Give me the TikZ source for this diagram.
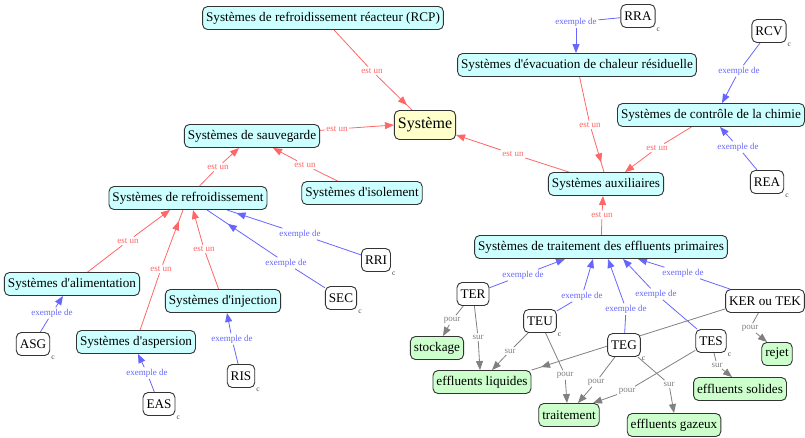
\documentclass[tikz,border=0pt]{standalone}
\usepackage{fontspec}
\setmainfont{Liberation Serif}
\usetikzlibrary{arrows.meta,decorations.markings}
\definecolor{cyanbg}{RGB}{204,255,255}
\definecolor{yellowbg}{RGB}{255,255,204}
\definecolor{greenbg}{RGB}{204,255,204}
\definecolor{cred}{RGB}{255,102,102}
\definecolor{cblue}{RGB}{102,102,255}
\definecolor{cgrey}{RGB}{128,128,128}
\pgfdeclarelayer{bg}
\pgfsetlayers{bg,main}
\newcommand{\apos}{\textquotesingle}
\tikzset{
  concept/.style={draw=black!80, rounded corners=5pt, line width=0.9pt, inner xsep=3.5pt, inner ysep=0pt, minimum height=23pt, font=\fontsize{13.2}{15}\selectfont},
  sysbox/.style={concept, fill=cyanbg},
  inst/.style={concept, fill=white},
  leaf/.style={concept, fill=greenbg},
  lbl/.style={font=\fontsize{9}{10}\selectfont, inner sep=1.5pt},
  rl/.style={lbl, text=cred},
  bl/.style={lbl, text=cblue},
  gl/.style={lbl, text=cgrey},
  redln/.style={cred, line width=0.8pt},
  blueln/.style={cblue, line width=0.8pt},
  greyln/.style={cgrey, line width=0.8pt},
  arr/.style={-{Triangle[length=9pt,width=7pt]}},
  tipat/.style={postaction={decorate}, decoration={markings, mark=at position #1 with {\arrow{Triangle[length=9pt,width=7pt]}}}},
  cmark/.style={font=\fontsize{7.5}{8}\selectfont, text=black!75, inner sep=0pt, anchor=north west, xshift=1pt},
}
\begin{document}
\begin{tikzpicture}[x=1pt,y=-1pt]
\useasboundingbox (0,0) rectangle (805,437);
% ---- concepts
\node[sysbox] (rcp) at (323,18) {Systèmes de refroidissement réacteur (RCP)};
\node[concept, fill=yellowbg, minimum height=29pt, font=\fontsize{16}{18}\selectfont] (sys) at (425,125) {Système};
\node[sysbox] (sauv) at (252,136) {Systèmes de sauvegarde};
\node[sysbox] (isol) at (362,193) {Systèmes d\apos isolement};
\node[sysbox] (refr) at (188,198) {Systèmes de refroidissement};
\node[sysbox] (alim) at (72,284) {Systèmes d\apos alimentation};
\node[sysbox] (asp) at (136,342) {Systèmes d\apos aspersion};
\node[sysbox] (inj) at (223,301) {Systèmes d\apos injection};
\node[inst] (asg) at (33,344) {ASG};
\node[inst] (eas) at (159,404) {EAS};
\node[inst] (ris) at (241,376) {RIS};
\node[inst] (sec) at (341,298) {SEC};
\node[inst] (rri) at (376,260) {RRI};
\node[inst] (rra) at (638,16) {RRA};
\node[sysbox] (evac) at (577,65) {Systèmes d\apos évacuation de chaleur résiduelle};
\node[inst] (rcv) at (769,31) {RCV};
\node[sysbox] (ctrl) at (711,115) {Systèmes de contrôle de la chimie};
\node[inst] (rea) at (767,182) {REA};
\node[sysbox] (aux) at (606,184) {Systèmes auxiliaires};
\node[sysbox] (step) at (601,247) {Systèmes de traitement des effluents primaires};
\node[inst] (ter) at (473,294) {TER};
\node[inst] (teu) at (540,321) {TEU};
\node[inst] (teg) at (624,345) {TEG};
\node[inst] (tes) at (711,341) {TES};
\node[inst] (ker) at (765,301) {KER ou TEK};
\node[leaf] (stock) at (437,348) {stockage};
\node[leaf] (liq) at (482,382) {effluents liquides};
\node[leaf] (trait) at (569,415) {traitement};
\node[leaf] (gaz) at (674,425) {effluents gazeux};
\node[leaf] (sol) at (740,389) {effluents solides};
\node[leaf] (rejet) at (777,354) {rejet};
% ---- small c marks
\foreach \n in {asg,eas,ris,sec,rri,rra,rcv,rea,teu,teg,tes}
  \node[cmark] (c\n) at (\n.south east) {c};
% ---- linking labels
\node[rl] (l1) at (372,71) {est un};
\node[rl] (l2) at (337,129) {est un};
\node[rl] (l3) at (218,167) {est un};
\node[rl] (l4) at (305,165) {est un};
\node[rl] (l5) at (128,241) {est un};
\node[rl] (l6) at (161,269) {est un};
\node[rl] (l7) at (204,249) {est un};
\node[bl] (l8) at (300,234) {exemple de};
\node[bl] (l9) at (286,263) {exemple de};
\node[bl] (l10) at (52,313) {exemple de};
\node[bl] (l11) at (147,373) {exemple de};
\node[bl] (l12) at (232,339) {exemple de};
\node[bl] (l13) at (576,22) {exemple de};
\node[rl] (l14) at (590,125) {est un};
\node[rl] (l15) at (513,154) {est un};
\node[bl] (l16) at (739,71) {exemple de};
\node[rl] (l17) at (657,148) {est un};
\node[bl] (l18) at (738,147) {exemple de};
\node[rl] (l19) at (602,215) {est un};
\node[bl] (l20) at (523,275) {exemple de};
\node[bl] (l21) at (582,296) {exemple de};
\node[bl] (l22) at (626,309) {exemple de};
\node[bl] (l23) at (656,294) {exemple de};
\node[bl] (l24) at (683,273) {exemple de};
\node[gl] (l25) at (452,320) {pour};
\node[gl] (l26) at (478,337) {sur};
\node[gl] (l27) at (510,351) {sur};
\node[gl] (l28) at (565,375) {pour};
\node[gl] (l29) at (596,382) {pour};
\node[gl] (l30) at (627,391) {pour};
\node[gl] (l31) at (669,384) {sur};
\node[gl] (l32) at (717,365) {sur};
\node[gl] (l33) at (750,328) {pour};
% ---- connectors
\begin{pgfonlayer}{bg}
\draw[redln] (rcp) -- (l1); \draw[redln, tipat=-7pt] (l1) -- ([xshift=-13pt]sys.north);
\draw[redln] (sauv) -- (l2); \draw[redln, arr] (l2) -- (sys.west);
\draw[redln] (refr) -- (l3); \draw[redln, arr] (l3) -- ([xshift=-13pt]sauv.south);
\draw[redln] (isol) -- (l4); \draw[redln, arr] (l4) -- ([xshift=21pt]sauv.south);
\draw[redln] (alim) -- (l5); \draw[redln, arr] (l5) -- ([xshift=-18pt]refr.south);
\draw[redln] (asp) -- (l6); \draw[redln, tipat=-12pt] (l6) -- ([xshift=-5pt]refr.south);
\draw[redln] (inj) -- (l7); \draw[redln, arr] (l7) -- ([xshift=5pt]refr.south);
\draw[blueln] (rri) -- (l8); \draw[blueln, tipat=-10pt] (l8) -- ([xshift=39pt]refr.south);
\draw[blueln] (sec) -- (l9); \draw[blueln, tipat=-25pt] (l9) -- ([xshift=19pt]refr.south);
\draw[blueln] (asg) -- (l10); \draw[blueln, arr] (l10) -- ([xshift=-9pt]alim.south);
\draw[blueln] (eas) -- (l11); \draw[blueln, arr] (l11) -- ([xshift=2pt]asp.south);
\draw[blueln] (ris) -- (l12); \draw[blueln, arr] (l12) -- ([xshift=4pt]inj.south);
\draw[blueln] (rra) -- (l13); \draw[blueln, arr] (l13) -- ([xshift=-1pt]evac.north);
\draw[redln] (evac) -- (l14); \draw[redln, tipat=-10pt] (l14) -- ([xshift=-2pt]aux.north);
\draw[redln] (aux) -- (l15); \draw[redln, arr] (l15) -- ([yshift=-10pt]sys.east);
\draw[blueln] (rcv) -- (l16); \draw[blueln, arr] (l16) -- ([xshift=11pt]ctrl.north);
\draw[redln] (ctrl) -- (l17); \draw[redln, arr] (l17) -- ([xshift=19pt]aux.north);
\draw[blueln] (rea) -- (l18); \draw[blueln, arr] (l18) -- ([xshift=9pt]ctrl.south);
\draw[redln] (step) -- (l19); \draw[redln, arr] (l19) -- ([xshift=-3pt]aux.south);
\draw[blueln] (ter) -- (l20); \draw[blueln, arr] (l20) -- ([xshift=-36pt]step.south);
\draw[blueln] (teu) -- (l21); \draw[blueln, arr] (l21) -- ([xshift=-8pt]step.south);
\draw[blueln] (teg) -- (l22); \draw[blueln, arr] (l22) -- ([xshift=7pt]step.south);
\draw[blueln] (tes) -- (l23); \draw[blueln, arr] (l23) -- ([xshift=22pt]step.south);
\draw[blueln] (ker) -- (l24); \draw[blueln, arr] (l24) -- ([xshift=37pt]step.south);
\draw[greyln] (ter) -- (l25); \draw[greyln, arr] (l25) -- ([xshift=6pt]stock.north);
\draw[greyln] (ter) -- (l26); \draw[greyln, arr] (l26) -- ([xshift=-2pt]liq.north);
\draw[greyln] (teu) -- (l27); \draw[greyln, arr] (l27) -- ([xshift=10pt]liq.north);
\draw[greyln] (teu) -- (l28); \draw[greyln, arr] (l28) -- ([xshift=-2pt]trait.north);
\draw[greyln] (teg) -- (l29); \draw[greyln, arr] (l29) -- ([xshift=9pt]trait.north);
\draw[greyln] (tes) -- (l30); \draw[greyln, arr] (l30) -- ([xshift=24pt]trait.north);
\draw[greyln] (teg) -- (l31); \draw[greyln, arr] (l31) -- (gaz.north);
\draw[greyln] (tes) -- (l32); \draw[greyln, arr] (l32) -- ([xshift=-8pt]sol.north);
\draw[greyln] (ker) -- (l33); \draw[greyln, arr] (l33) -- ([xshift=-10pt]rejet.north);
\draw[greyln, tipat=-10pt] ([xshift=3pt,yshift=5pt]ker.south west) -- (liq.north east);
\end{pgfonlayer}
\end{tikzpicture}
\end{document}
